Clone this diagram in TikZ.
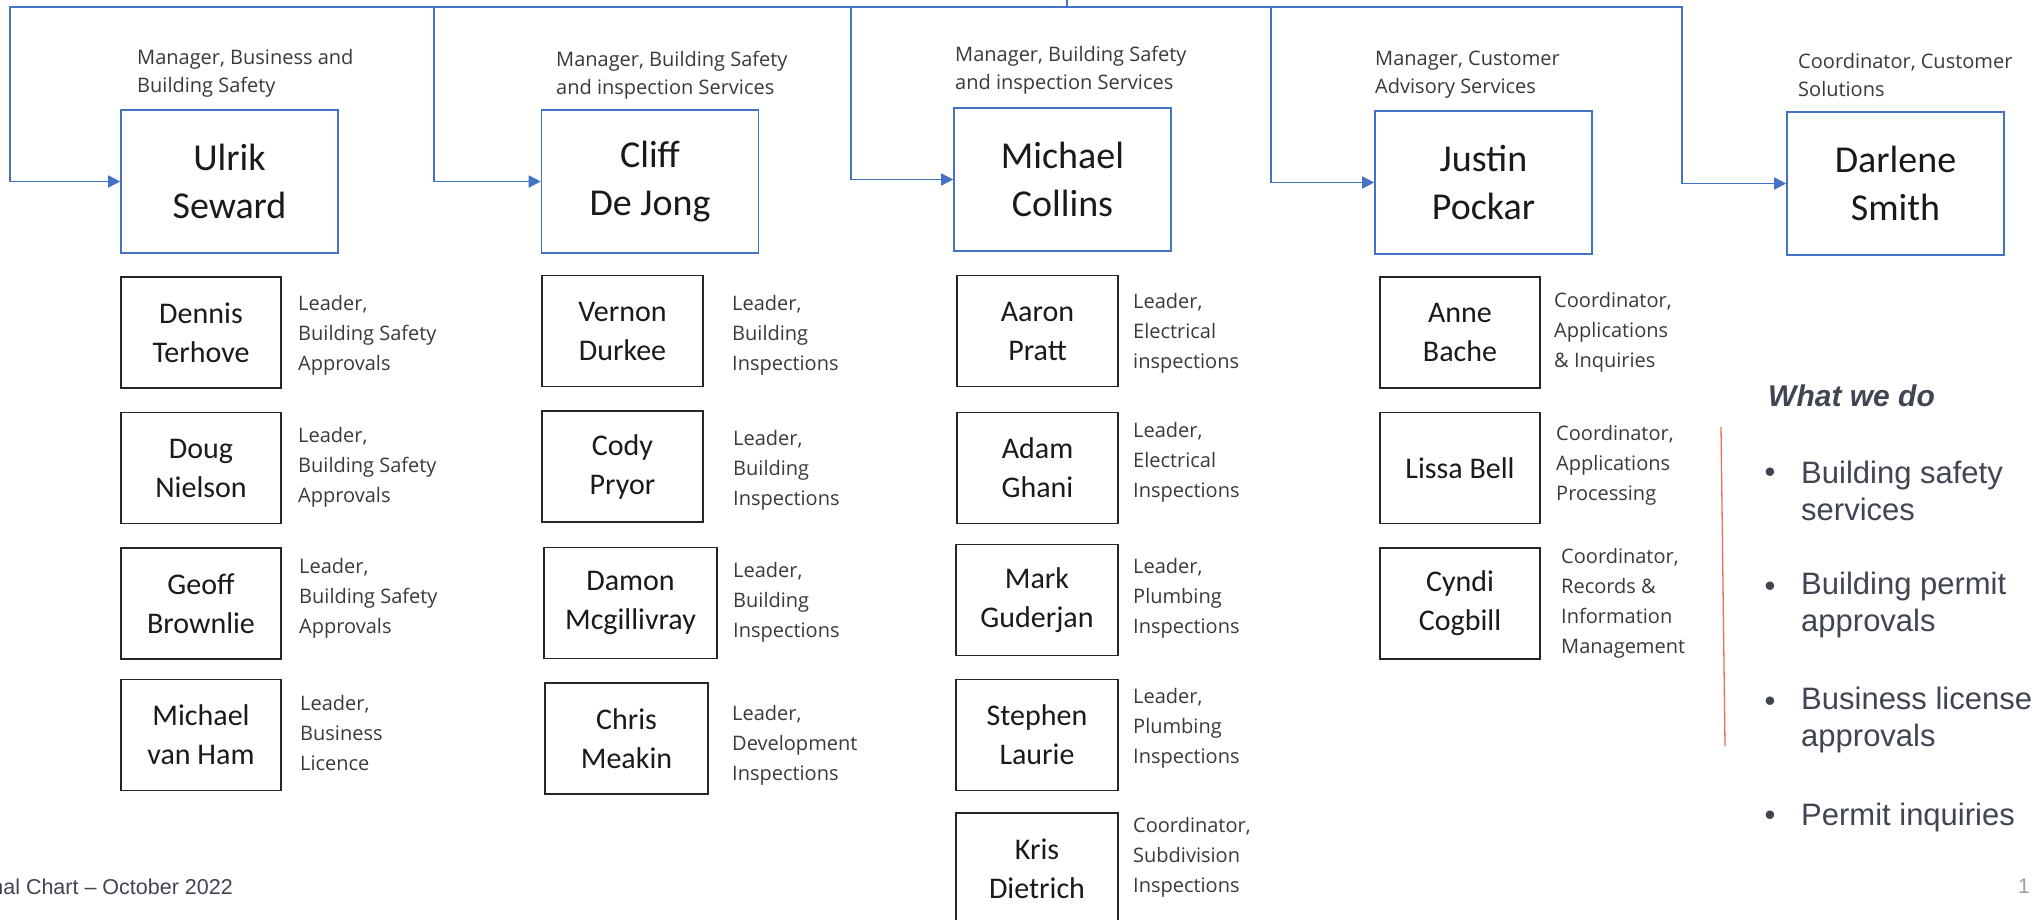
\documentclass[tikz,border=0pt]{standalone}
\usepackage{fontspec}
\setmainfont{Open Sans}
\newfontfamily\namefont{Carlito}
\newfontfamily\arialfont{Liberation Sans}
\usetikzlibrary{arrows.meta,calc}
\definecolor{conblue}{HTML}{4472C4}
\definecolor{boxcol}{HTML}{262626}
\definecolor{namecol}{HTML}{1A1A1A}
\definecolor{rolecol}{HTML}{3A3A3A}
\definecolor{slidetext}{HTML}{404651}
\definecolor{divred}{RGB}{234,112,84}
\definecolor{pagegray}{HTML}{A0A0A0}
\tikzset{
  mgrbox/.style={draw=conblue, line width=1.6pt, minimum width=217pt, minimum height=143pt,
    inner sep=0pt, align=center, text=namecol, font=\namefont\fontsize{38}{48}\selectfont},
  leadbox/.style={draw=boxcol, line width=1.8pt, minimum height=111pt, inner sep=0pt,
    align=center, text=namecol, font=\namefont\fontsize{30}{39}\selectfont},
  role/.style={anchor=west, align=left, inner sep=0pt, text=rolecol, font=\fontsize{20}{30}\selectfont},
  mtitle/.style={anchor=west, align=left, inner sep=0pt, text=rolecol, font=\fontsize{20}{28}\selectfont},
  conn/.style={draw=conblue, line width=1.6pt},
  arr/.style={conn, -{Triangle[length=12pt,width=12pt]}},
  bul/.style={inner sep=0pt, text=slidetext, font=\arialfont\fontsize{31}{37}\selectfont},
  item/.style={anchor=west, align=left, inner sep=0pt, text=slidetext, font=\arialfont\fontsize{31}{37}\selectfont},
}
\begin{document}
\begin{tikzpicture}[x=1pt,y=-1pt]
\useasboundingbox (0,0) rectangle (2044,920);
\fill[white] (0,0) rectangle (2044,920);

% managers
\node[mgrbox] (ulrik)   at (229.5,181.5) {Ulrik\\Seward};
\node[mgrbox] (cliff)   at (650,181.5)   {Cliff\\De Jong};
\node[mgrbox] (michael) at (1062.5,179.5) {Michael\\Collins};
\node[mgrbox] (justin)  at (1483.5,182.5) {Justin\\Pockar};
\node[mgrbox] (darlene) at (1895.5,183.5) {Darlene\\Smith};

% manager titles
\node[mtitle] (t1) at (137,73)  {Manager, Business and\\Building Safety};
\node[mtitle] (t2) at (556,75)  {Manager, Building Safety\\and inspection Services};
\node[mtitle] (t3) at (955,70)  {Manager, Building Safety\\and inspection Services};
\node[mtitle] (t4) at (1375,75) {Manager, Customer\\Advisory Services};
\node[mtitle] (t5) at (1798,75) {Coordinator, Customer\\Solutions};

% connectors
\coordinate (stub) at (1067,0);
\coordinate (top)  at (1067,7);
\coordinate (d1) at (10,7);
\coordinate (d2) at (434,7);
\coordinate (d3) at (851,7);
\coordinate (d4) at (1271,7);
\coordinate (d5) at (1682,7);
\draw[conn] (stub) -- (top);
\draw[arr] (top) -- (d1) -- (d1 |- ulrik.west) -- (ulrik.west);
\draw[arr] (top) -- (d2) -- (d2 |- cliff.west) -- (cliff.west);
\draw[arr] (top) -- (d3) -- (d3 |- michael.west) -- (michael.west);
\draw[arr] (top) -- (d4) -- (d4 |- justin.west) -- (justin.west);
\draw[arr] (top) -- (d5) -- (d5 |- darlene.west) -- (darlene.west);

% column 1
\node[leadbox, minimum width=160pt] (dennis) at (201,332.5) {Dennis\\Terhove};
\node[leadbox, minimum width=160pt] (doug)   at (201,468)   {Doug\\Nielson};
\node[leadbox, minimum width=160pt] (geoff)  at (201,603.5) {Geoff\\Brownlie};
\node[leadbox, minimum width=160pt] (mvh)    at (201,735)   {Michael\\van Ham};
\node[role] (r11) at (298,335) {Leader,\\Building Safety\\Approvals};
\node[role] (r12) at (298,467) {Leader,\\Building Safety\\Approvals};
\node[role] (r13) at (299,598) {Leader,\\Building Safety\\Approvals};
\node[role] (r14) at (300,733) {Leader,\\Business\\Licence};

% column 2
\node[leadbox, minimum width=161pt] (vernon) at (622.5,331)   {Vernon\\Durkee};
\node[leadbox, minimum width=161pt] (cody)   at (622.5,466.5) {Cody\\Pryor};
\node[leadbox, minimum width=173pt] (damon)  at (630.5,603)   {Damon\\Mcgillivray};
\node[leadbox, minimum width=163pt] (chris)  at (626.5,738.5) {Chris\\Meakin};
\node[role] (r21) at (732,335) {Leader,\\Building\\Inspections};
\node[role] (r22) at (733,470) {Leader,\\Building\\Inspections};
\node[role] (r23) at (733,602) {Leader,\\Building\\Inspections};
\node[role] (r24) at (732,745) {Leader,\\Development\\Inspections};

% column 3
\node[leadbox, minimum width=161pt] (aaron)   at (1037.5,331)   {Aaron\\Pratt};
\node[leadbox, minimum width=161pt] (adam)    at (1037.5,468)   {Adam\\Ghani};
\node[leadbox, minimum width=162pt] (mark)    at (1037,600)     {Mark\\Guderjan};
\node[leadbox, minimum width=162pt] (stephen) at (1037,735)     {Stephen\\Laurie};
\node[leadbox, minimum width=162pt] (kris)    at (1037,868.5)   {Kris\\Dietrich};
\node[role] (r31) at (1133,333) {Leader,\\Electrical\\inspections};
\node[role] (r32) at (1133,462) {Leader,\\Electrical\\Inspections};
\node[role] (r33) at (1133,598) {Leader,\\Plumbing\\Inspections};
\node[role] (r34) at (1133,728) {Leader,\\Plumbing\\Inspections};
\node[role] (r35) at (1133,857) {Coordinator,\\Subdivision\\Inspections};

% column 4
\node[leadbox, minimum width=160pt] (anne)  at (1460,332.5) {Anne\\Bache};
\node[leadbox, minimum width=160pt] (lissa) at (1460,468)   {Lissa Bell};
\node[leadbox, minimum width=160pt] (cyndi) at (1460,603.5) {Cyndi\\Cogbill};
\node[role] (r41) at (1554,332) {Coordinator,\\Applications\\\& Inquiries};
\node[role] (r42) at (1556,465) {Coordinator,\\Applications\\Processing};
\node[role] (r43) at (1561,603.5) {Coordinator,\\Records \&\\Information\\Management};

% what we do
\draw[divred, line width=1.3pt] (1721,427) -- (1725,746);
\node[anchor=west, inner sep=0pt, text=slidetext, font=\arialfont\bfseries\itshape\fontsize{30}{36}\selectfont] (wwd) at (1768,396) {What we do};
\node[bul] (b1) at (1770,475) {•};
\node[bul] (b2) at (1770,589) {•};
\node[bul] (b3) at (1770,704) {•};
\node[bul] (b4) at (1770,818) {•};
\node[item] (i1) at (1801,491)   {Building safety\\services};
\node[item] (i2) at (1801,604.5) {Building permit\\approvals};
\node[item] (i3) at (1801,719.5) {Business license\\approvals};
\node[item] (i4) at (1801,817)   {Permit inquiries};

% footer
\node[anchor=east, inner sep=0pt, text=slidetext, font=\arialfont\fontsize{21.5}{26}\selectfont] (foot) at (233,887) {nal Chart – October 2022};
\node[inner sep=0pt, text=pagegray, font=\arialfont\fontsize{21}{25}\selectfont] (pg) at (2024,886) {1};
\end{tikzpicture}
\end{document}
